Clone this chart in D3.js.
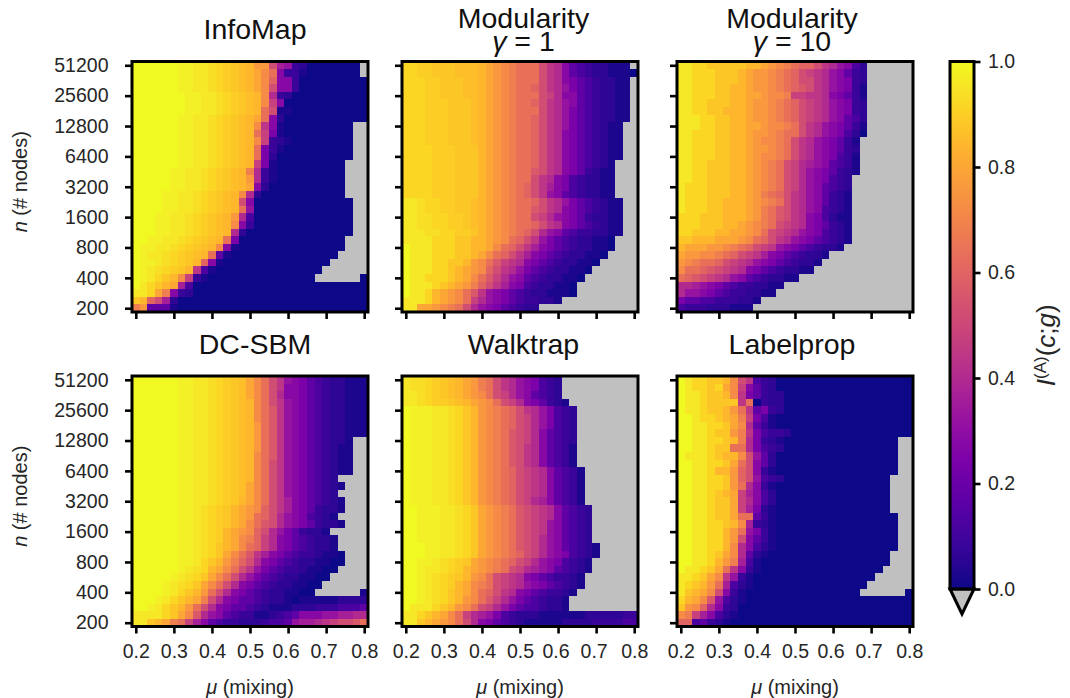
<!DOCTYPE html>
<html lang="en">

<head>
  <meta charset="UTF-8">
  <title>community detection heatmaps</title>
  <script src="https://cdn.jsdelivr.net/npm/d3@7"></script>
  <style>
    body { margin: 0; background: #fff; }
    text { font-family: "Liberation Sans", Arial, sans-serif; fill: #262626; }
  </style>
</head>

<body>
  <svg id="chart" width="1070" height="698"></svg>
</body>

</html>
<script>
  // one string per row, top row is n = 51200, bottom row is n = 200
  // each letter is one entry of levels (a = 0 ... z = 1), capitals sit half a step
  // below their lower case letter, "." = below zero (drawn grey)
  const levels = [0, .025, .055, .085, .125, .175, .24, .28, .32, .36, .4, .44, .48,
    .52, .56, .6, .64, .68, .72, .76, .8, .84, .88, .92, .96, 1];

  const infomap = [
    "zzzzzzZZyyYxXwWvttnjidcaaaaaaa.",
    "zzzzzzZZyyYxXwWvusqhddbaaaaaaa.",
    "zzzzzzZZyyYxXwWvusphhdaaaaaaaaa",
    "zzzzzzZZyyYxXwWvusnhhdaaaaaaaaa",
    "zzzzzzzZZyyYxXwWvskdcaaaaaaaaaa",
    "zzzzzzzZZyyYxXwWvsmhaaaaaaaaaaa",
    "zzzzzzzZZyyYxXwWvqnbbaaaaaaaaaa",
    "zzzzzzZZyyYxXwWvuqhcaaaaaaaaaaa",
    "zzzzzzZZyyYxXwWvslhbaaaaaaaaa..",
    "zzzzzzZZyyYxXwWvqmgbaaaaaaaaa..",
    "zzzzzzZZyyYxXwWvsmdcbaaaaaaaa..",
    "zzzzzzZZyyYxXwWvqgdbaaaaaaaaa..",
    "zzzzzzZZyyYxXwWvqgcaaaaaaaaaa..",
    "zzzzzzZZyyYxXwWvmgbaaaaaaaaa...",
    "zzzzzZZyyYxXwWvrkdbaaaaaaaaa...",
    "zzzzzZZyyYxXwWvtkdbaaaaaaaaa...",
    "zzzzzZZyyYxXwWvuhcaaaaaaaaaa...",
    "zzzzZZyyYxXwWvskcaaaaaaaaaaa...",
    "zzzzZZyyYxXwWvnhaaaaaaaaaaaaa..",
    "zzzzZZyyYxXwWvqiaaaaaaaaaaaaa..",
    "zzzZZyyYxXwWvtkeaaaaaaaaaaaaa..",
    "zzzZZyyYxXwWvshdaaaaaaaaaaaaa..",
    "zzzZZyyYxXwWvkcaaaaaaaaaaaaaa..",
    "zzZZyyYxXwWvqgaaaaaaaaaaaaaa...",
    "zZZyyYxXwWvshbaaaaaaaaaaaaaa...",
    "zZyyYxXwWvqfbaaaaaaaaaaaaaa....",
    "zZZyYxXwvphbaaaaaaaaaaaaaa.....",
    "zZyYxXwvlebaaaaaaaaaaaaaa......",
    "zZyxwvsmdbaaaaaaaaaaaaaa......a",
    "zyxwvujeaaaaaaaaaaaaaaaaaaaaaaa",
    "yyxurhdcaaaaaaaaaaaaaaaaaaaaaaa",
    "wvpnjcaaaaaaaaaaaaaaaaaaaaaaaaa",
    "rtfffbaaaaaaaaaaaaaaaaaaaaaaaaa",
  ];

  const modularity1 = [
    "xxXXwwwWWWvutsrqqqnlkhfedccbbb.",
    "xxXXwwwWWWvutsrqqqnlkhfedccbbba",
    "xxxXXwwwWWvutsrqqqnlkhgfedccbb.",
    "xxxXXwwwWWvutsrqqpnlkigfedccbb.",
    "xxxXXwwwWWvutsrqqqnmkhhfedccbb.",
    "xxxXXXwwwWvutsrqqpnlkihfedccbb.",
    "xxxXXXwwwWvutsrqqqnlkigfedccbb.",
    "xxxXXXwwwWvutsrqqpnlkigfedccbb.",
    "xxxXXXwwwWvutsrqqpnlkigfedcbb..",
    "xxxXXXwwwWvutsrqqpnlkhgfedcbb..",
    "xxxXXXwwwWvutsrqqpnlkhgfedcbb..",
    "xxxxXXXwwwvutsrqqpnlkhgfedcbb..",
    "xxxxXXXwwwvutsrqqpnlkhgfedcbb..",
    "xxxxXXXwwwvutsrqqpnlkhgfedcb...",
    "xxxxXXXwwwvutsrqqonlkhgfdcbb...",
    "xxxxXXXwwwvutsrqqnlkhgedccbb...",
    "xxxxXXXwwwvutsrqpnljhgedccbb...",
    "xxxxXXXwwwvutsrqpnlihfedccbb...",
    "yyYxxXXwwWvutsrqqpnlkigfedcbb..",
    "yyYxxXXwwWvutsrqqonlkhgfedcbb..",
    "yyYYxxXXwWvutsrqqnmkihgfdccbb..",
    "yyYYxxXXwWvutsrqqpnlkhgfedcbb..",
    "yyyYYxxXXwvutsrqpnkihfeddccbb..",
    "yyyyxxxwwvvutsqpnligfedccbba...",
    "zyyyxxxwwvvusqpnljhgfedccbba...",
    "zyyyxxxwwvusqpnljhgfedccbba....",
    "zyyyxxwwvtsqomlkhgfedccbba.....",
    "zyyyxxwvutspnlkigfedccbba......",
    "zyyxxxwvusqomkihfedccbba.......",
    "zyyyxwvutrpnljhgedccbba........",
    "zyyxvutsqolihgfedccbbba........",
    "yyyxvutsqmkihgfeddccb..........",
    "yyuutsrqnkihgfedcc.............",
  ];

  const modularity10 = [
    "yyxxwwwwwvvutsrqppnlkihec......",
    "yyxxxwwwvuttsrqpnmlkihfdc......",
    "yyxxxwwwvuttsrqpnnlkihgdc......",
    "yyxxxwwvvuttsrqponlkihgdb......",
    "yyxxxwwvvuutssrmmllkhgfdb......",
    "yyxxwwwvvuttsrqpnmlkihgdc......",
    "yyxxwwvvvuttsrqpnmlkihgdc......",
    "yyyxxwwvvuttsrqpnmlkihfec......",
    "yyyxxwwvvuutssrqnlkihgfdb......",
    "yyxxxwwvvuttsrqqnlkihgeca......",
    "yyxxxwwvvutssrqnlkihgfdb.......",
    "yyxxxwwvvuttsrqnlkihgfdc.......",
    "yyxxxwwvvutssrqnlkihgedb.......",
    "yyxxwwwvvutsrqnmkjihfedb.......",
    "yyxxwwwvvutsrqnmkihgfdcb.......",
    "yyxxwwwvvutsrqnmkihgedc........",
    "yxxxwwwvvutsrqnmkihfedc........",
    "yxxxwwwvvutrqpnlkihfdcb........",
    "yxxxwwvvvutsrqnlkihfdcb........",
    "yxxxwwvvvutrqonlkihedcb........",
    "xxxwwwvvvutrqonlkhgecbb........",
    "xxxwwwvvutsrqnmlkhgfdcb........",
    "xxwwwvvuutsqnmlkihgedcb........",
    "wwvvvuuutsqpnlkihgfedcb........",
    "vuuuttsrqpnmlihgfedccb.........",
    "uttssrqpnmljhgfedccb...........",
    "tsrqqpnmlkihgfedccb............",
    "sqqponmlkhgfedccbb.............",
    "qponmlkihfedccbb...............",
    "kkjihgfeddccbb.................",
    "kiihgfeddccbb..................",
    "gffeedddccb....................",
    "edddcccbbb.....................",
  ];

  const dcsbm = [
    "zzzzzzZZyyYxXwWusqnlihgfedccbbb",
    "zzzzzzZZyyYxXwWusqnlhhgfedccbbb",
    "zzzzzzZZyyYxXwWusqnkhhgfedccbbb",
    "zzzzzzZZyyYxXwWvsqnlihgfedccbbb",
    "zzzzzzZZyyYxXwWvsqolihgfedccbbb",
    "zzzzzzZZyyYxXwWvsqolihgfedccbbb",
    "zzzzzzZZyyYxXwWvtqolihgfedccbbb",
    "zzzzzzZZyyYxXwWvtqolihgfedccbbb",
    "zzzzzzZZyyYxXwWvtqolihgfedccb..",
    "zzzzzzZZyyYxXwWvtqolihgfedcbb..",
    "zzzzzzZZyyYxXwWvsqolihgfedcbb..",
    "zzzzzzZZyyYxXwWvsqnlihgfedcbb..",
    "zzzzzzZZyyYxXwWvsqnlihgfedcbb..",
    "zzzzzzZZyyYxXwWvsqnlihgfedc....",
    "zzzzzzZZyyYxXwWusqnlihgfedcb...",
    "zzzzzzZZyyYxXwWusqnlihgfedc....",
    "zzzzzzZZyyYxXwvusqnljhgfedcb...",
    "zzzzzzZZyYxXwvutspnljhgfdccb...",
    "zzzzzzZZyYxXwvutqpnkihgedcb....",
    "zzzzzzZZyYxXwvusqonkihgfdccb...",
    "zzzzzzZZyYxXvutspnkigfdccb.....",
    "zzzzzzZZyYxXvusrpmkhgfedccb....",
    "zzzzzzZZyYxwvusqpmkhgfedccb....",
    "zzzzzzZZyYxwusqoljhgfeddcbba...",
    "zzzzzzZZyxwvtrpnkhgfedccbbaa...",
    "zzzzzzZyYxvusqnligfeddcbbaa....",
    "zzzzzZyYxwusqnkigfedccbbaa.....",
    "zzzzZyYxwusqnkhgfedccbbaa......",
    "zzzzZyxwvtqnkhgfedccbbaa......b",
    "zzzZyxwvurnkhgffedccbabbbbbcccc",
    "zzZyxwvtqnkhgffedcbbbcccdddeeef",
    "yyyyxwusokihfeddbbcdefhhhiijjkk",
    "yywvurqmjhfeddcccdeefijjklmnnoq",
  ];

  const walktrap = [
    "yYYxXwWvutrqnlkihgedc..........",
    "yYYxXwWvutrqnlkihgedc..........",
    "yyYxXwWvutsqnmkihfedc..........",
    "yyYxXXwWvutsqnmkhgfdcb.........",
    "zZZZyyYxwvtsrqpnlkigedc........",
    "zZZZyyYxwvtsrqpnmkigedc........",
    "zZZZyyYxwvtsrqpnmkigedc........",
    "zZZZyyYxwvtsrqonmkhfedc........",
    "zZZZyyYxwvtsrqonmkhfedc........",
    "zZZZyyYxwvtsrqonlkhfedb........",
    "zZZZyyYxwvtsrqonlkhfedb........",
    "zZZZyyYxwvtsrqonlkhfedb........",
    "zZZZyyYxwvtsrqpnmlkhfedb.......",
    "zZZZyyYxwvtsrqpnmlkhfedb.......",
    "zZZZyyYxwvtsrqpnmlkhfedb.......",
    "zZZZyyYxwvtsrqpnmlkhfedb.......",
    "zZZZyyYxwvtsrqpnmkjhfedb.......",
    "zzZZZyyYxwutsrqonmlkhfedc......",
    "zzZZZyyYxwutsrqonmlkhfedc......",
    "zzZZZyyYxwutsrqonmlihfedc......",
    "zzZZZyyYxwutsrqonmlihfedc......",
    "zzZZZyyYxwutsrqonmkihfedc......",
    "zzzZZyyYxwutsrqonmkihfedcb.....",
    "zzzZZyyYxwutsrqpnmkihgedcb.....",
    "zzZZyYxXwutsrqpnmkihgedcb......",
    "zzZyyYxXvutsrqnmkjihfedcb......",
    "zzZyYxXwvtsqnmlkhgfeddcb.......",
    "zzZyYxXvusrqnmlkihgfedcb.......",
    "zzZyYxwvusqpnlkhgfeddcb........",
    "zzZyYxwvtsqomkigfedccb.........",
    "zyyyxwvtsqnmkigfeedccb.........",
    "yyxwvusqmkjigedcccbbbbbbcccccdd",
    "yywvutsqnkhgfedcbbbbbccccddddee",
  ];

  const labelprop = [
    "zyxxwwvsnledcaaaaaaaaaaaaaaaaaa",
    "zyxxwxusmhfdcaaaaaaaaaaaaaaaaaa",
    "zyyxwwvslgfdccaaaaaaaaaaaaaaaaa",
    "zyyxwwwwlqadccaaaaaaaaaaaaaaaaa",
    "zyyxwwvtqlfgdcaaaaaaaaaaaaaaaaa",
    "zzyxxwvurmgebaaaaaaaaaaaaaaaaaa",
    "zzyyxxwuskfdbaaaaaaaaaaaaaaaaaa",
    "zzyyxwwtrlgeddcaaaaaaaaaaaaaaaa",
    "zzyyxxwvrkgdcbaaaaaaaaaaaaaaa..",
    "zzyyxwwqqkgedcaaaaaaaaaaaaaaa..",
    "zyyyxwvvsnifcaaaaaaaaaaaaaaaa..",
    "zzyyxxwuqnhfcaaaaaaaaaaaaaaaa..",
    "zzyyxvvtpnhdbaaaaaaaaaaaaaaaa..",
    "zzyyxxwtpniedcaaaaaaaaaaaaaa...",
    "zzyyxxwtqkhdbaaaaaaaaaaaaaaa...",
    "zzyyxwvumjhecaaaaaaaaaaaaaaa...",
    "zzyyxwwumkhecaaaaaaaaaaaaaaa...",
    "zzyyxwwumjgcbaaaaaaaaaaaaaaa...",
    "zzyyxwwuqqfdbaaaaaaaaaaaaaaaa..",
    "zzyyxxwvsjdcbaaaaaaaaaaaaaaaa..",
    "zzyyxxvtqigdbaaaaaaaaaaaaaaaa..",
    "zzyyxxvtnhfdbaaaaaaaaaaaaaaaa..",
    "zzyyxxvskhecbaaaaaaaaaaaaaaaa..",
    "zzyyxwuskfcbaaaaaaaaaaaaaaaa...",
    "zzyyxvtrjebaaaaaaaaaaaaaaaaa...",
    "zyyxwuqlhdbaaaaaaaaaaaaaaaa....",
    "yyxwuslidbaaaaaaaaaaaaaaaa.....",
    "yxwvtqjecbaaaaaaaaaaaaaaa......",
    "ywvusnhdbaaaaaaaaaaaaaaa......a",
    "xvusoiecbaaaaaaaaaaaaaaaaaaaaaa",
    "wtspkhdcaaaaaaaaaaaaaaaaaaaaaaa",
    "srmjhecbaaaaaaaaaaaaaaaaaaaaaaa",
    "ppefdcbaaaaaaaaaaaaaaaaaaaaaaaa",
  ];

  const muTicks = [0.2, 0.3, 0.4, 0.5, 0.6, 0.7, 0.8];
  const nTicks = [200, 400, 800, 1600, 3200, 6400, 12800, 25600, 51200];
  const barTicks = [0, 0.2, 0.4, 0.6, 0.8, 1];

  const muStep = 0.02, rowsPerDoubling = 4, topN = 51200;

  const panelW = 236, panelH = 250.5;
  const lefts = [132, 402, 677], tops = [61.5, 376];
  const titleCenters = [255, 523.5, 792];

  const underColor = '#c0c0c0';
  const decode = c => {
    if (c === '.') return -1;
    const i = c.toLowerCase().charCodeAt(0) - 97;
    return c === c.toLowerCase() ? levels[i] : (levels[i] + levels[i - 1]) / 2;
  };
  const color = v => v < 0 ? underColor : d3.interpolatePlasma(v);

  const x = d3.scaleLinear()
    .domain([muTicks[0] - muStep / 2, muTicks[6] + muStep / 2])
    .range([0, panelW]);

  const halfRow = Math.pow(2, 1 / (2 * rowsPerDoubling));
  const y = d3.scaleLog().base(2)
    .domain([nTicks[0] / halfRow, topN * halfRow])
    .range([panelH, 0]);

  const svg = d3.select('#chart');
  const tickFont = '"Liberation Sans", Arial, sans-serif';

  // title lines: plain text, or [italic part, rest]
  const panels = [
    { rows: infomap, col: 0, row: 0, title: ['InfoMap'] },
    { rows: modularity1, col: 1, row: 0, title: ['Modularity', ['γ', ' = 1']] },
    { rows: modularity10, col: 2, row: 0, title: ['Modularity', ['γ', ' = 10']] },
    { rows: dcsbm, col: 0, row: 1, title: ['DC-SBM'] },
    { rows: walktrap, col: 1, row: 1, title: ['Walktrap'] },
    { rows: labelprop, col: 2, row: 1, title: ['Labelprop'] },
  ];

  panels.forEach(p => {
    const g = svg.append('g')
      .attr('transform', `translate(${lefts[p.col]},${tops[p.row]})`);

    const cells = p.rows.flatMap((s, r) => Array.from(s, (c, i) => ({
      mu: muTicks[0] + i * muStep,
      n: topN / Math.pow(2, r / rowsPerDoubling),
      v: decode(c),
    })));

    g.selectAll('rect.cell').data(cells).join('rect')
      .attr('class', 'cell')
      .attr('x', d => x(d.mu - muStep / 2))
      .attr('y', d => y(d.n * halfRow))
      .attr('width', d => x(d.mu + muStep / 2) - x(d.mu - muStep / 2))
      .attr('height', d => y(d.n / halfRow) - y(d.n * halfRow))
      .attr('fill', d => color(d.v))
      .attr('shape-rendering', 'crispEdges');

    const xAxis = g.append('g')
      .attr('transform', `translate(0,${panelH})`)
      .call(d3.axisBottom(x).tickValues(muTicks).tickFormat(d3.format('.1f')).tickSizeOuter(0).tickSize(7).tickPadding(10.5));
    const yAxis = g.append('g')
      .call(d3.axisLeft(y).tickValues(nTicks).tickFormat(d3.format('d')).tickSizeOuter(0).tickSize(7).tickPadding(16.5));

    [xAxis, yAxis].forEach(a => {
      a.select('.domain').remove();
      a.selectAll('line').attr('stroke', '#000').attr('stroke-width', 2.6);
      a.selectAll('text').style('font-size', '19.5px').style('font-family', tickFont).attr('fill', '#262626');
    });

    // 0.6 and 0.7 labels sit a little left of their ticks in the original
    xAxis.selectAll('text').filter(d => d === 0.6 || d === 0.7).attr('dx', -2.5);

    if (p.row === 0) xAxis.selectAll('text').remove();
    if (p.col !== 0) yAxis.selectAll('text').remove();

    g.append('rect')
      .attr('width', panelW)
      .attr('height', panelH)
      .attr('fill', 'none')
      .attr('stroke', '#000')
      .attr('stroke-width', 3);

    // title
    const cx = titleCenters[p.col] - lefts[p.col];
    const baseY = p.title.length === 1 ? -22.5 : -34;
    p.title.forEach((line, k) => {
      const t = g.append('text')
        .attr('x', cx)
        .attr('y', baseY + k * 23.5)
        .attr('text-anchor', 'middle')
        .style('font-size', '28.5px')
        .style('fill', '#111');
      if (typeof line === 'string') {
        t.text(line);
      } else {
        t.append('tspan').style('font-style', 'italic').text(line[0]);
        t.append('tspan').text(line[1]);
      }
    });

    if (p.row === 1) {
      const t = g.append('text')
        .attr('x', panelW / 2)
        .attr('y', panelH + 67)
        .attr('text-anchor', 'middle')
        .style('font-size', '20px');
      t.append('tspan').style('font-style', 'italic').text('μ');
      t.append('tspan').text(' (mixing)');
    }
    if (p.col === 0) {
      const t = g.append('text')
        .attr('transform', `translate(-105,${panelH / 2 - 5}) rotate(-90)`)
        .attr('text-anchor', 'middle')
        .style('font-size', '20px');
      t.append('tspan').style('font-style', 'italic').text('n');
      t.append('tspan').text(' (# nodes)');
    }
  });

  // colorbar
  const barX = 950, barW = 24, barTop = 61.5, barBottom = 589;
  const barScale = d3.scaleLinear().domain([0, 1]).range([barBottom, barTop]);

  const grad = svg.append('defs').append('linearGradient')
    .attr('id', 'plasmaBar')
    .attr('x1', 0).attr('x2', 0).attr('y1', 1).attr('y2', 0);
  d3.range(0, 1.001, 0.05).forEach(t => {
    grad.append('stop').attr('offset', t).attr('stop-color', d3.interpolatePlasma(t));
  });

  svg.append('path')
    .attr('d', `M${barX},${barBottom}L${barX + barW / 2},${barBottom + 25}L${barX + barW},${barBottom}Z`)
    .attr('fill', underColor)
    .attr('stroke', '#000')
    .attr('stroke-width', 3);

  svg.append('rect')
    .attr('x', barX)
    .attr('y', barTop)
    .attr('width', barW)
    .attr('height', barBottom - barTop)
    .attr('fill', 'url(#plasmaBar)')
    .attr('stroke', '#000')
    .attr('stroke-width', 3);

  const barAxis = svg.append('g')
    .attr('transform', `translate(${barX + barW},0)`)
    .call(d3.axisRight(barScale).tickValues(barTicks).tickFormat(d3.format('.1f')).tickSizeOuter(0).tickSize(6.5).tickPadding(7.5));
  barAxis.select('.domain').remove();
  barAxis.selectAll('line').attr('stroke', '#000').attr('stroke-width', 2.6);
  barAxis.selectAll('text').style('font-size', '19.5px').style('font-family', tickFont).attr('fill', '#262626');

  const barLabel = svg.append('text')
    .attr('transform', `translate(1055,${(barTop + barBottom) / 2 + 20}) rotate(-90)`)
    .attr('text-anchor', 'middle')
    .style('font-size', '26px');
  barLabel.append('tspan').style('font-style', 'italic').text('I');
  barLabel.append('tspan').attr('dy', -9).style('font-size', '17px').text('(A)');
  barLabel.append('tspan').attr('dy', 9).text('(');
  barLabel.append('tspan').style('font-style', 'italic').text('c');
  barLabel.append('tspan').text(';');
  barLabel.append('tspan').style('font-style', 'italic').text('g');
  barLabel.append('tspan').text(')');
</script>
